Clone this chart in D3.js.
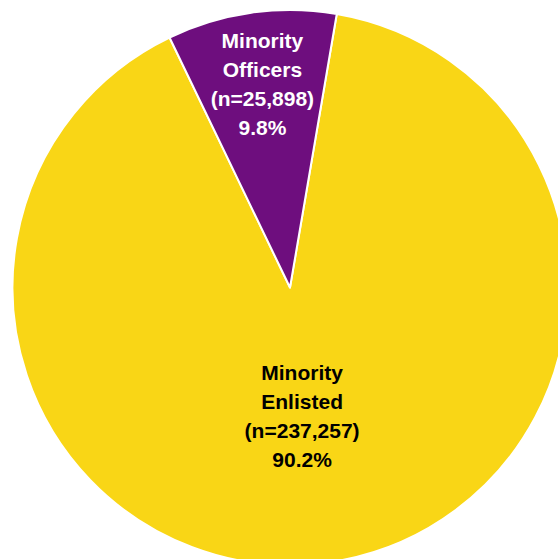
<!DOCTYPE html>
<html>
<head>
<meta charset="utf-8">
<script src="https://cdn.jsdelivr.net/npm/d3@7"></script>
<style>
    html, body { margin: 0; padding: 0; background: #fff; overflow: hidden; }
    text { font-family: "Liberation Sans", Arial, sans-serif; font-weight: bold; }
</style>
</head>
<body>
<svg id="chart"></svg>
<script>
// chart data
const categories = ['Minority Enlisted', 'Minority Officers']
const counts = [237257, 25898]
const percents = ['90.2%', '9.8%']
const countLabels = ['(n=237,257)', '(n=25,898)']

const colors = ['#F9D616', '#6E0E7E']
const textColors = ['#000000', '#ffffff']

const dims = { width: 558, height: 559 }
const center = { x: 290, y: 287.5 }
const radius = 277.5
const labelRadius = [130, 205]
const labelShiftX = [-6, 1]
const lineHeight = 29

var data = categories.map(function (c, i) {
    return { name: c, value: counts[i], idx: i }
})

var pie = d3.pie()
            .sort(null)
            .value(function (d) { return d.value })
            .startAngle(9.7 * Math.PI / 180)
            .endAngle(9.7 * Math.PI / 180 + 2 * Math.PI)

var arc = d3.arc().innerRadius(0).outerRadius(radius)

var svg = d3.select('#chart')
            .attr('width', dims.width)
            .attr('height', dims.height)

var g = svg.append('g')
           .attr('transform', `translate(${center.x}, ${center.y})`)

var arcs = pie(data)

g.selectAll('.slice')
 .data(arcs)
 .enter().append('path')
 .attr('class', 'slice')
 .attr('d', arc)
 .attr('fill', function (d) { return colors[d.data.idx] })
 .attr('stroke', '#ffffff')
 .attr('stroke-width', 2)
 .attr('stroke-linejoin', 'round')

// labels
var label = g.selectAll('.label')
             .data(arcs)
             .enter().append('text')
             .attr('class', 'label')
             .attr('text-anchor', 'middle')
             .style('font-size', '21px')
             .attr('fill', function (d) { return textColors[d.data.idx] })
             .attr('transform', function (d) {
                 var c = d3.arc().innerRadius(labelRadius[d.data.idx])
                                 .outerRadius(labelRadius[d.data.idx])
                                 .centroid(d)
                 return `translate(${c[0] + labelShiftX[d.data.idx]}, ${c[1]})`
             })

label.each(function (d) {
    var name = d.data.name.split(' ')
    var lines = [name[0], name[1], countLabels[d.data.idx], percents[d.data.idx]]
    var t = d3.select(this)
    lines.forEach(function (l, i) {
        t.append('tspan')
         .attr('x', 0)
         .attr('y', (i - 1.5) * lineHeight + 7.4)
         .text(l)
    })
})
</script>
</body>
</html>
